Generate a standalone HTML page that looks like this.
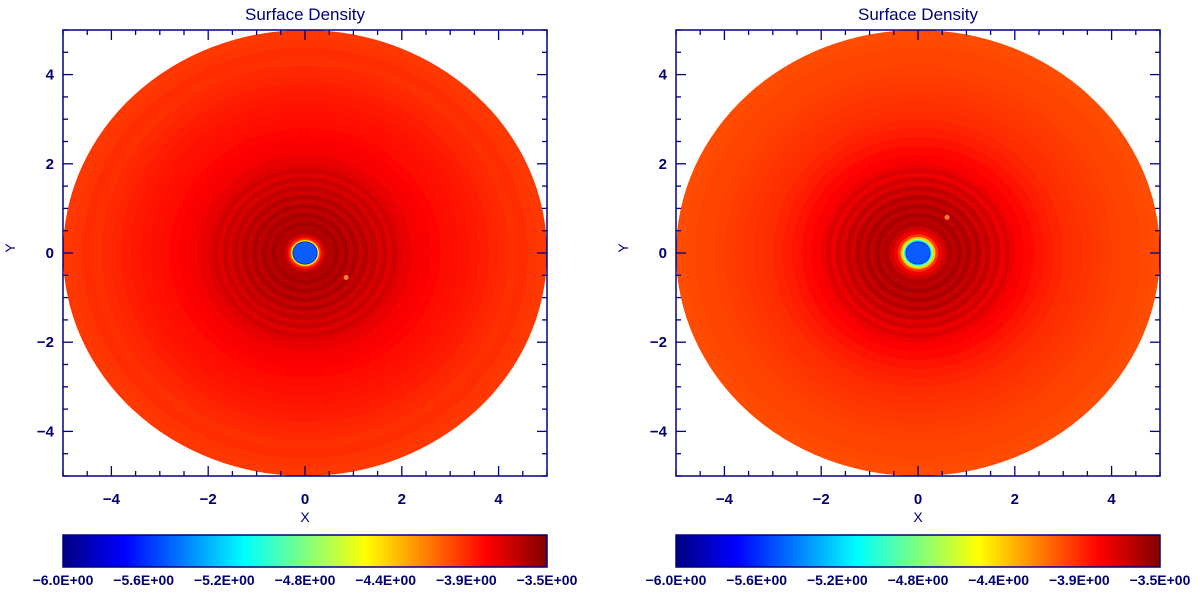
<!DOCTYPE html>
<html><head><meta charset="utf-8"><style>
body{margin:0;background:#fff;width:1200px;height:589px;overflow:hidden}
svg text{font-family:"Liberation Sans",sans-serif;fill:#000070}
</style></head><body>
<svg id="chart" width="1200" height="589" xmlns="http://www.w3.org/2000/svg">
<defs>
<linearGradient id="jet" x1="0" x2="1" y1="0" y2="0">
<stop offset="0" stop-color="#000080"/><stop offset="0.125" stop-color="#0000ff"/>
<stop offset="0.375" stop-color="#00ffff"/><stop offset="0.625" stop-color="#ffff00"/>
<stop offset="0.875" stop-color="#ff0000"/><stop offset="1" stop-color="#800000"/>
</linearGradient>
</defs>
</svg>
<script>
// Radial profile data (radius in units, log surface density)
const radii = [5.0,4.8,4.6,4.4,4.2,4.0,3.8,3.6,3.4,3.2,3.0,2.8,2.6,2.4,2.2,2.0,1.9,1.8,1.7,1.6,1.5,1.4,1.3,1.2,1.1,1.0,0.9,0.8,0.7,0.6,0.5,0.42,0.36,0.32,0.29,0.26];
const leftValues = [-3.95,-3.94,-3.92,-3.93,-3.91,-3.9,-3.88,-3.87,-3.86,-3.85,-3.84,-3.82,-3.8,-3.79,-3.76,-3.74,-3.7,-3.74,-3.68,-3.72,-3.66,-3.7,-3.63,-3.68,-3.61,-3.66,-3.6,-3.64,-3.59,-3.63,-3.62,-3.72,-3.85,-4.0,-4.4,-5.6];
const rightValues = [-4.0,-3.99,-3.98,-3.98,-3.97,-3.96,-3.95,-3.94,-3.93,-3.92,-3.9,-3.88,-3.86,-3.83,-3.8,-3.77,-3.73,-3.77,-3.7,-3.74,-3.66,-3.71,-3.63,-3.68,-3.61,-3.66,-3.6,-3.65,-3.62,-3.7,-3.78,-3.95,-4.3,-4.6,-5.0,-5.6];
const planetLeft = [0.85,-0.55];
const planetRight = [0.6,0.8];
const cbarLabels = ["-6.0E+00","-5.6E+00","-5.2E+00","-4.8E+00","-4.4E+00","-3.9E+00","-3.5E+00"];
const axisTicks = [-4,-2,0,2,4];
const vmin=-6, vmax=-3.5;

const NS="http://www.w3.org/2000/svg";
const svg=document.getElementById('chart');
function el(t,a,p){const e=document.createElementNS(NS,t);for(const k in a)e.setAttribute(k,a[k]);(p||svg).appendChild(e);return e;}
function jet(v){let t=(v-vmin)/(vmax-vmin);t=Math.max(0,Math.min(1,t));
 const f=x=>Math.max(0,Math.min(1,x));
 const r=f(Math.min(4*t-1.5,-4*t+4.5)),g=f(Math.min(4*t-0.5,-4*t+3.5)),b=f(Math.min(4*t+0.5,-4*t+2.5));
 return `rgb(${Math.round(r*255)},${Math.round(g*255)},${Math.round(b*255)})`;}

function panel(x0,x1,values,planet,name){
 const y0=30,y1=476;
 const sx=v=>x0+(v+5)/10*(x1-x0);
 const sy=v=>y1-(v+5)/10*(y1-y0);
 const g=el('g',{});
 
 
 const cx=sx(0),cy=sy(0);
 radii.forEach((r,i)=>{
  const e=el('ellipse',{cx:cx,cy:cy,rx:sx(r)-cx,ry:cy-sy(r),fill:jet(values[i])},g);
  
  
 });
 const hole=el('ellipse',{cx:cx,cy:cy,rx:sx(0.24)-cx,ry:cy-sy(0.24),fill:'#0a5cff'},g);
 
 
 const p=el('circle',{cx:sx(planet[0]),cy:sy(planet[1]),r:2.5,fill:'#ff7a30'},g);
 
 
 const fr=el('rect',{x:x0,y:y0,width:x1-x0,height:y1-y0,fill:'none',stroke:'#000080','stroke-width':1.5},g);
 
 
 for(let v=-5;v<=5.001;v+=0.5){
  const major=Math.abs(v%2)<0.01&&Math.abs(v)<5;const L=major?10:5;
  const X=sx(v),Y=sy(v);
  [[X,y1,X,y1-L],[X,y0,X,y0+L],[x0,Y,x0+L,Y],[x1,Y,x1-L,Y]].forEach(c=>{
   const t=el('line',{x1:c[0],y1:c[1],x2:c[2],y2:c[3],stroke:'#000080','stroke-width':1.3},g);
   
   
  });
 }
 axisTicks.forEach(v=>{
  const tx=el('text',{x:sx(v),y:504,'text-anchor':'middle','font-size':15,'font-weight':'bold'},g);tx.textContent=v<0?'−'+(-v):v;
  
  
  const ty=el('text',{x:x0-9,y:sy(v)+5,'text-anchor':'end','font-size':15,'font-weight':'bold'},g);ty.textContent=v<0?'−'+(-v):v;
  
  
 });
 const xt=el('text',{x:cx,y:522,'text-anchor':'middle','font-size':14},g);xt.textContent='X';
 
 
 const yt=el('text',{x:x0-48,y:cy+5,'text-anchor':'middle','font-size':14,transform:`rotate(-90 ${x0-53} ${cy})`},g);yt.textContent='Y';
 
 
 const tt=el('text',{x:cx,y:20,'text-anchor':'middle','font-size':17},g);tt.textContent='Surface Density';
 
 
 const cb=el('rect',{x:x0,y:535,width:x1-x0,height:32,fill:'url(#jet)',stroke:'#000080','stroke-width':1.5},g);
 
 
 cbarLabels.forEach((s,i)=>{
  const t=el('text',{x:x0+i*(x1-x0)/6,y:585,'text-anchor':'middle','font-size':14,'font-weight':'bold'},g);t.textContent=s.replace(/-/g,'−');
  
  
 });
}
panel(63,547,leftValues,planetLeft,'left-panel');
panel(676,1160,rightValues,planetRight,'right-panel');
</script>
</body></html>
